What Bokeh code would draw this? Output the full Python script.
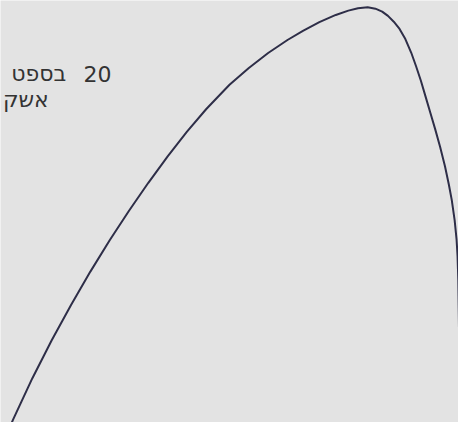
from bokeh.plotting import figure
from bokeh.models import Range1d, ColumnDataSource
from bokeh.core.properties import value
from bokeh.embed import file_html
from bokeh.resources import INLINE

# Curve (x to the right, y read from the top)
curve_x = [10.5, 13, 33, 53, 73, 93, 113, 133, 153, 173, 193, 213, 237, 257,
           277, 297, 313, 330, 347, 360, 370, 380, 388, 395, 401, 407, 413,
           419, 425, 430, 435, 440, 445, 450, 455, 460, 464, 467, 470, 472,
           473, 473.8, 474.3, 474.8, 476, 477.5]
curve_y_from_top = [441, 435, 392, 352.6, 316, 281.4, 248.8, 218.2, 189.2,
                    161.8, 136.2, 112.6, 87.5, 70, 54.5, 41, 31.5, 22.5, 15,
                    10.5, 8, 7, 8.5, 11.5, 16, 22, 29.5, 40, 54, 68, 83, 100,
                    117, 134, 152, 172, 191, 207, 228, 248, 265, 290, 325,
                    362, 400, 440]
page_h = 438
curve_y = [page_h - v for v in curve_y_from_top]

# Note (Hebrew), only the part visible in the picture
note_texts = ["20", "בספט", "אשק"]
note_x = [115, 68, 50]
note_y = [page_h - 76, page_h - 76, page_h - 103]

BG = "#e3e3e3"

p = figure(width=458, height=422, output_backend="svg", toolbar_location=None,
           x_range=Range1d(0, 474), y_range=Range1d(0, 438),
           x_axis_location=None, y_axis_location=None, min_border=0)
p.grid.visible = False
p.outline_line_color = None
p.background_fill_color = BG
p.border_fill_color = BG

src = ColumnDataSource(dict(x=curve_x, y=curve_y))
p.line("x", "y", source=src, line_color="#2e2e48", line_width=2,
       line_join="round")

tsrc = ColumnDataSource(dict(x=note_x, y=note_y, t=note_texts))
p.text("x", "y", text="t", source=tsrc, text_align="right",
       text_baseline="alphabetic", text_font=value("DejaVu Sans"),
       text_font_size="22px", text_color="#333333")

open("out.html", "w").write(file_html(p, INLINE))
